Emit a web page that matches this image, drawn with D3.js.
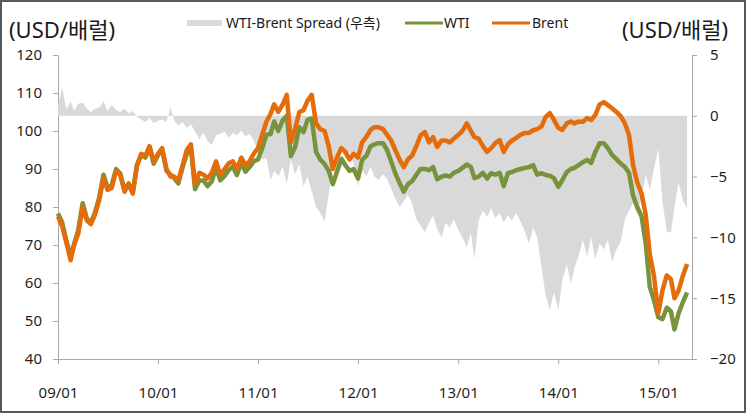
<!DOCTYPE html>
<html>
<head>
<meta charset="utf-8">
<script src="https://cdn.jsdelivr.net/npm/d3@7"></script>
<style>
    body { margin: 0; background: #fff; }
    svg text { font-family: "Noto Sans", "Noto Sans CJK KR", sans-serif; }
</style>
</head>
<body>
<div id="oil_chart"></div>
<script>
// half-monthly readings, 2009-01 .. 2015-04
const dates = [
    "2009-01-01","2009-01-16","2009-02-01","2009-02-16","2009-03-01","2009-03-16","2009-04-01","2009-04-16","2009-05-01","2009-05-16","2009-06-01","2009-06-16",
    "2009-07-01","2009-07-16","2009-08-01","2009-08-16","2009-09-01","2009-09-16","2009-10-01","2009-10-16","2009-11-01","2009-11-16","2009-12-01","2009-12-16",
    "2010-01-01","2010-01-16","2010-02-01","2010-02-16","2010-03-01","2010-03-16","2010-04-01","2010-04-16","2010-05-01","2010-05-16","2010-06-01","2010-06-16",
    "2010-07-01","2010-07-16","2010-08-01","2010-08-16","2010-09-01","2010-09-16","2010-10-01","2010-10-16","2010-11-01","2010-11-16","2010-12-01","2010-12-16",
    "2011-01-01","2011-01-16","2011-02-01","2011-02-16","2011-03-01","2011-03-16","2011-04-01","2011-04-16","2011-05-01","2011-05-16","2011-06-01","2011-06-16",
    "2011-07-01","2011-07-16","2011-08-01","2011-08-16","2011-09-01","2011-09-16","2011-10-01","2011-10-16","2011-11-01","2011-11-16","2011-12-01","2011-12-16",
    "2012-01-01","2012-01-16","2012-02-01","2012-02-16","2012-03-01","2012-03-16","2012-04-01","2012-04-16","2012-05-01","2012-05-16","2012-06-01","2012-06-16",
    "2012-07-01","2012-07-16","2012-08-01","2012-08-16","2012-09-01","2012-09-16","2012-10-01","2012-10-16","2012-11-01","2012-11-16","2012-12-01","2012-12-16",
    "2013-01-01","2013-01-16","2013-02-01","2013-02-16","2013-03-01","2013-03-16","2013-04-01","2013-04-16","2013-05-01","2013-05-16","2013-06-01","2013-06-16",
    "2013-07-01","2013-07-16","2013-08-01","2013-08-16","2013-09-01","2013-09-16","2013-10-01","2013-10-16","2013-11-01","2013-11-16","2013-12-01","2013-12-16",
    "2014-01-01","2014-01-16","2014-02-01","2014-02-16","2014-03-01","2014-03-16","2014-04-01","2014-04-16","2014-05-01","2014-05-16","2014-06-01","2014-06-16",
    "2014-07-01","2014-07-16","2014-08-01","2014-08-16","2014-09-01","2014-09-16","2014-10-01","2014-10-16","2014-11-01","2014-11-16","2014-12-01","2014-12-16",
    "2015-01-01","2015-01-16","2015-02-01","2015-02-16","2015-03-01","2015-03-16","2015-04-01","2015-04-16"
];

const brent = [
    77.5, 75, 70.5, 66, 70, 73, 80, 76.5, 75.5, 78,
    82, 87.5, 84.5, 85, 89.5, 88.5, 84, 86, 83.5, 91,
    94, 93.5, 96, 92, 94, 95.5, 90, 88, 88, 87,
    91, 95, 96.5, 86, 89, 88.5, 87.5, 89, 92, 88.5,
    90, 91.5, 92, 90, 93, 91, 92, 94, 95.5, 99,
    102.5, 104.5, 107, 105, 107, 109.5, 97, 100.5, 105, 105.5,
    108, 109.5, 102, 100.5, 100, 96, 90, 93, 95.5, 94.5,
    92.5, 94, 93, 97, 98.5, 100.3, 101, 101, 100.5, 99,
    97.5, 95, 92.4, 90.5, 92.5, 93.5, 96, 98.8, 99.7, 97,
    98.4, 95.8, 97.5, 97.5, 97, 98, 99, 100, 102, 100,
    98.4, 98, 96, 94.5, 95.5, 96.8, 97.6, 94.5, 96.5, 97.5,
    98.2, 99, 99.5, 99.5, 100.2, 100.5, 101.2, 103.7, 104.7, 103,
    100.8, 100.3, 102, 102.5, 102, 102.5, 102.4, 103.4, 102.9, 104.2,
    107, 107.6, 106.8, 106, 105, 104, 102, 99, 91, 86.5,
    83.5, 78, 67.5, 62, 52, 58, 62, 61, 56, 58,
    62, 65
];

const wti = [
    78.3, 76, 71, 67, 70.3, 74, 81, 77, 75.8, 78.5,
    82.7, 88.5, 85, 85.8, 90, 88.8, 84.6, 86.2, 84, 90.9,
    93.7, 93, 95.8, 91.4, 93.6, 95.2, 89.5, 88.5, 87.6, 86.2,
    90.5, 94, 95.6, 84.7, 87, 87, 85.5, 86.7, 90.3, 87,
    88.2, 89.7, 90.6, 88.4, 91.7, 89.3, 90.5, 92, 92.5, 95.4,
    99, 99.2, 102.5, 100, 102.8, 104, 93.4, 95.7, 101, 99.7,
    103, 103.3, 94.5, 92.5, 91.3, 89.5, 86, 89.2, 92.7, 91,
    89.5, 90, 87.5, 92.4, 93.5, 96, 96.5, 96.8, 96.8, 95,
    92, 88.9, 86.3, 84, 86, 86.8, 88.5, 90, 90, 89.7,
    90.5, 87.3, 88, 88.3, 88, 89, 89.5, 90.3, 91.2, 90.5,
    87.6, 88, 89, 87.5, 88.9, 88.5, 89, 85.5, 88.9, 89.2,
    89.7, 90, 90.3, 90.5, 91, 88.5, 88.9, 88.4, 88.2, 87.6,
    85.3, 87.1, 89.2, 90, 90.3, 91, 91.8, 92.4, 91.6, 94.5,
    96.8, 96.8, 95.5, 93.7, 92.6, 91.5, 90.5, 89, 83, 80,
    77.5, 70.5, 59, 55.5, 51, 50.5, 53.5, 52.5, 47.8, 52,
    55, 57.5
];

const spread = [
    0.8, 2.3, 0.5, 1.2, 0.4, 1.0, 1.1, 0.6, 0.3, 0.6,
    0.7, 1.2, 0.4, 0.9, 0.5, 0.3, 0.6, 0.2, 0.4, -0.1,
    -0.3, -0.5, -0.2, -0.6, -0.4, -0.3, -0.5, 0.7, -0.4, -0.8,
    -0.5, -1.0, -0.7, -1.3, -1.9, -1.4, -2.1, -2.4, -1.6, -1.5,
    -1.3, -1.8, -1.4, -1.6, -1.2, -1.7, -1.5, -2.0, -3.0, -3.6,
    -3.5, -5.3, -4.5, -5.0, -4.2, -5.6, -3.6, -4.8, -4.0, -5.8,
    -5.0, -6.2, -7.5, -8.0, -8.7, -6.5, -4.0, -3.8, -2.8, -3.5,
    -3.0, -4.0, -5.8, -4.5, -5.0, -4.2, -5.0, -5.3, -4.8, -5.2,
    -6.0, -6.8, -7.5, -7.0, -6.5, -7.2, -8.5, -9.0, -9.6, -8.8,
    -8.2, -9.3, -10.0, -8.8, -9.2, -8.5, -9.4, -10.0, -10.8, -9.6,
    -11.8, -8.6, -7.8, -8.3, -7.6, -8.4, -8.0, -8.8, -8.2, -8.6,
    -8.0, -8.7, -9.5, -10.5, -9.2, -10.0, -12.5, -14.8, -16.0, -14.5,
    -16.0, -13.5, -12.2, -13.8, -12.5, -11.5, -10.2, -11.6, -10.0, -11.8,
    -10.5, -11.0, -10.2, -12.0, -11.0, -10.4, -8.5, -7.8, -7.2, -8.0,
    -6.8, -4.8, -6.1, -4.4, -2.7, -7.0, -9.5, -9.6, -7.5, -5.5,
    -7.0, -7.6
];

const leftTicks = [40, 50, 60, 70, 80, 90, 100, 110, 120];
const rightTicks = [-20, -15, -10, -5, 0, 5];
const yearTicks = ["2009-01-01", "2010-01-01", "2011-01-01", "2012-01-01", "2013-01-01", "2014-01-01", "2015-01-01"];
const axisEnd = "2015-05-04";

function main() {

    const canvasWidth = 746;
    const canvasHeight = 413;
    const left = 58, right = 692, top = 55, bottom = 359;

    const svg = d3.select("#oil_chart").append("svg")
        .attr("width", canvasWidth)
        .attr("height", canvasHeight)

    const parse = d3.utcParse("%Y-%m-%d");
    const rows = dates.map((d, i) => ({ date: parse(d), brent: brent[i], wti: wti[i], spread: spread[i] }));

    var x = d3.scaleUtc()
        .domain([parse(yearTicks[0]), parse(axisEnd)])
        .range([left, right])

    var y = d3.scaleLinear().domain([40, 120]).range([bottom, top])
    var yRight = d3.scaleLinear().domain([-20, 5]).range([bottom, top])

    // axes
    const axisColor = "#a9a9a9";
    const styleAxis = g => {
        g.selectAll(".domain").attr("stroke", axisColor)
        g.selectAll(".tick line").attr("stroke", axisColor)
        g.selectAll(".tick text").attr("fill", "#1f1f1f").style("font-size", "15px")
    }

    svg.append("g")
        .attr("transform", "translate(" + left + ",0)")
        .call(d3.axisLeft(y).tickValues(leftTicks).tickSize(5).tickSizeOuter(0).tickPadding(11))
        .call(styleAxis)

    svg.append("g")
        .attr("transform", "translate(" + right + ",0)")
        .call(d3.axisRight(yRight).tickValues(rightTicks).tickSize(5).tickSizeOuter(0).tickPadding(13))
        .call(styleAxis)

    svg.append("g")
        .attr("transform", "translate(0," + bottom + ")")
        .call(d3.axisBottom(x).tickValues(yearTicks.map(parse)).tickFormat(d3.utcFormat("%y/%m"))
            .tickSize(5).tickSizeOuter(0).tickPadding(23))
        .call(styleAxis)

    // spread (right axis)
    const area = d3.area()
        .x(d => x(d.date))
        .y0(yRight(0))
        .y1(d => yRight(d.spread))

    svg.append("path")
        .datum(rows)
        .attr("fill", "#d9d9d9")
        .attr("d", area)

    const lineOf = key => d3.line().x(d => x(d.date)).y(d => y(d[key]))

    svg.append("path")
        .datum(rows)
        .attr("fill", "none")
        .attr("stroke", "#77933c")
        .attr("stroke-width", 4.5)
        .attr("stroke-linejoin", "round")
        .attr("d", lineOf("wti"))

    svg.append("path")
        .datum(rows)
        .attr("fill", "none")
        .attr("stroke", "#e46c0a")
        .attr("stroke-width", 4.5)
        .attr("stroke-linejoin", "round")
        .attr("d", lineOf("brent"))

    // unit labels
    svg.append("text")
        .attr("x", 9).attr("y", 38)
        .style("font-size", "22px").attr("fill", "#1a1a1a")
        .text("(USD/배럴)")

    svg.append("text")
        .attr("x", 622).attr("y", 38)
        .style("font-size", "22px").attr("fill", "#1a1a1a")
        .text("(USD/배럴)")

    // legend
    const legend = svg.append("g").style("font-size", "14px")

    legend.append("rect")
        .attr("x", 187).attr("y", 20).attr("width", 35).attr("height", 6)
        .attr("fill", "#d9d9d9")
    legend.append("text").attr("x", 226).attr("y", 28).attr("fill", "#1a1a1a").text("WTI-Brent Spread (우측)")

    legend.append("line")
        .attr("x1", 405).attr("x2", 443).attr("y1", 23).attr("y2", 23)
        .attr("stroke", "#77933c").attr("stroke-width", 3)
    legend.append("text").attr("x", 444).attr("y", 28).attr("fill", "#1a1a1a").text("WTI")

    legend.append("line")
        .attr("x1", 492).attr("x2", 530).attr("y1", 23).attr("y2", 23)
        .attr("stroke", "#e46c0a").attr("stroke-width", 3)
    legend.append("text").attr("x", 532).attr("y", 28).attr("fill", "#1a1a1a").text("Brent")

    // outer frame
    svg.append("rect")
        .attr("x", 1).attr("y", 1)
        .attr("width", canvasWidth - 2).attr("height", canvasHeight - 2)
        .attr("fill", "none")
        .attr("stroke", "#595959")
        .attr("stroke-width", 2)
}
main();
</script>
</body>
</html>
